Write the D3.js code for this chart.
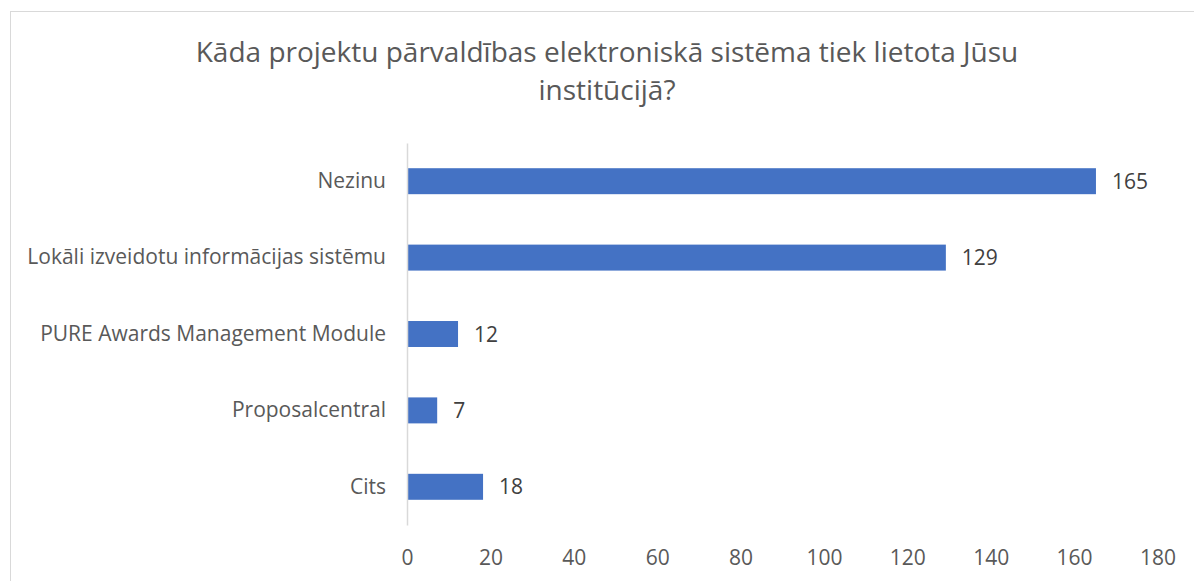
<!DOCTYPE html>
<html lang="lv">
<head>
  <meta charset="UTF-8">
  <title>Projektu pārvaldības sistēmas</title>
  <script src="https://cdn.jsdelivr.net/npm/d3@7"></script>
  <style>
    html, body { margin: 0; padding: 0; background: #fff; }
    #chart { width: 1194px; height: 581px; }
  </style>
</head>
<body>
<div id="chart"></div>
<script>
  // data
  const categories = ["Nezinu", "Lokāli izveidotu informācijas sistēmu", "PURE Awards Management Module", "Proposalcentral", "Cits"];
  const values = [165, 129, 12, 7, 18];
  const xTicks = [0, 20, 40, 60, 80, 100, 120, 140, 160, 180];
  const titleLines = ["Kāda projektu pārvaldības elektroniskā sistēma tiek lietota Jūsu", "institūcijā?"];

  const width = 1194, height = 581;
  const margin = { top: 143, right: 36, bottom: 56, left: 407 };
  const font = "'Open Sans', sans-serif";
  const textColor = "#595959";

  const svg = d3.select("#chart").append("svg")
      .attr("width", width)
      .attr("height", height);

  // chart area border
  svg.append("rect")
      .attr("x", 10.5).attr("y", 11.5)
      .attr("width", width).attr("height", height)
      .attr("fill", "none")
      .attr("stroke", "#d9d9d9");

  const x = d3.scaleLinear()
      .domain([0, 180])
      .range([margin.left, width - margin.right - 0.5]);

  const y = d3.scaleBand()
      .domain(categories)
      .range([margin.top, height - margin.bottom])
      .paddingInner(0.66)
      .paddingOuter(0.33);

  // title
  svg.append("text")
      .attr("x", 607)
      .attr("y", 62)
      .attr("text-anchor", "middle")
      .style("font-family", font)
      .style("font-size", "28px")
      .style("fill", textColor)
      .selectAll("tspan")
      .data(titleLines)
      .join("tspan")
      .attr("x", 607)
      .attr("dy", (d, i) => i === 0 ? 0 : 38)
      .text(d => d);

  // bars
  svg.append("g")
      .selectAll("rect")
      .data(values)
      .join("rect")
      .attr("x", x(0) + 1)
      .attr("y", (d, i) => y(categories[i]))
      .attr("width", d => x(d) - x(0))
      .attr("height", y.bandwidth())
      .attr("fill", "#4472c4");

  // value labels
  svg.append("g")
      .selectAll("text")
      .data(values)
      .join("text")
      .attr("x", d => x(d) + 17)
      .attr("y", (d, i) => y(categories[i]) + y.bandwidth() / 2)
      .attr("dy", "0.36em")
      .style("font-family", font)
      .style("font-size", "21px")
      .style("fill", "#404040")
      .text(d => d);

  // y axis
  const yAxis = svg.append("g")
      .attr("transform", `translate(${margin.left},0)`)
      .call(d3.axisLeft(y).tickSize(0).tickPadding(21));
  yAxis.select(".domain").attr("stroke", "#d9d9d9").attr("stroke-width", 1.5);
  yAxis.selectAll("text")
      .style("font-family", font)
      .style("font-size", "21px")
      .style("fill", textColor);

  // x axis (labels only)
  const xAxis = svg.append("g")
      .attr("transform", `translate(0,${height - margin.bottom})`)
      .call(d3.axisBottom(x).tickValues(xTicks).tickSize(0).tickPadding(25));
  xAxis.select(".domain").remove();
  xAxis.selectAll("text")
      .style("font-family", font)
      .style("font-size", "21px")
      .style("fill", textColor);
</script>
</body>
</html>
